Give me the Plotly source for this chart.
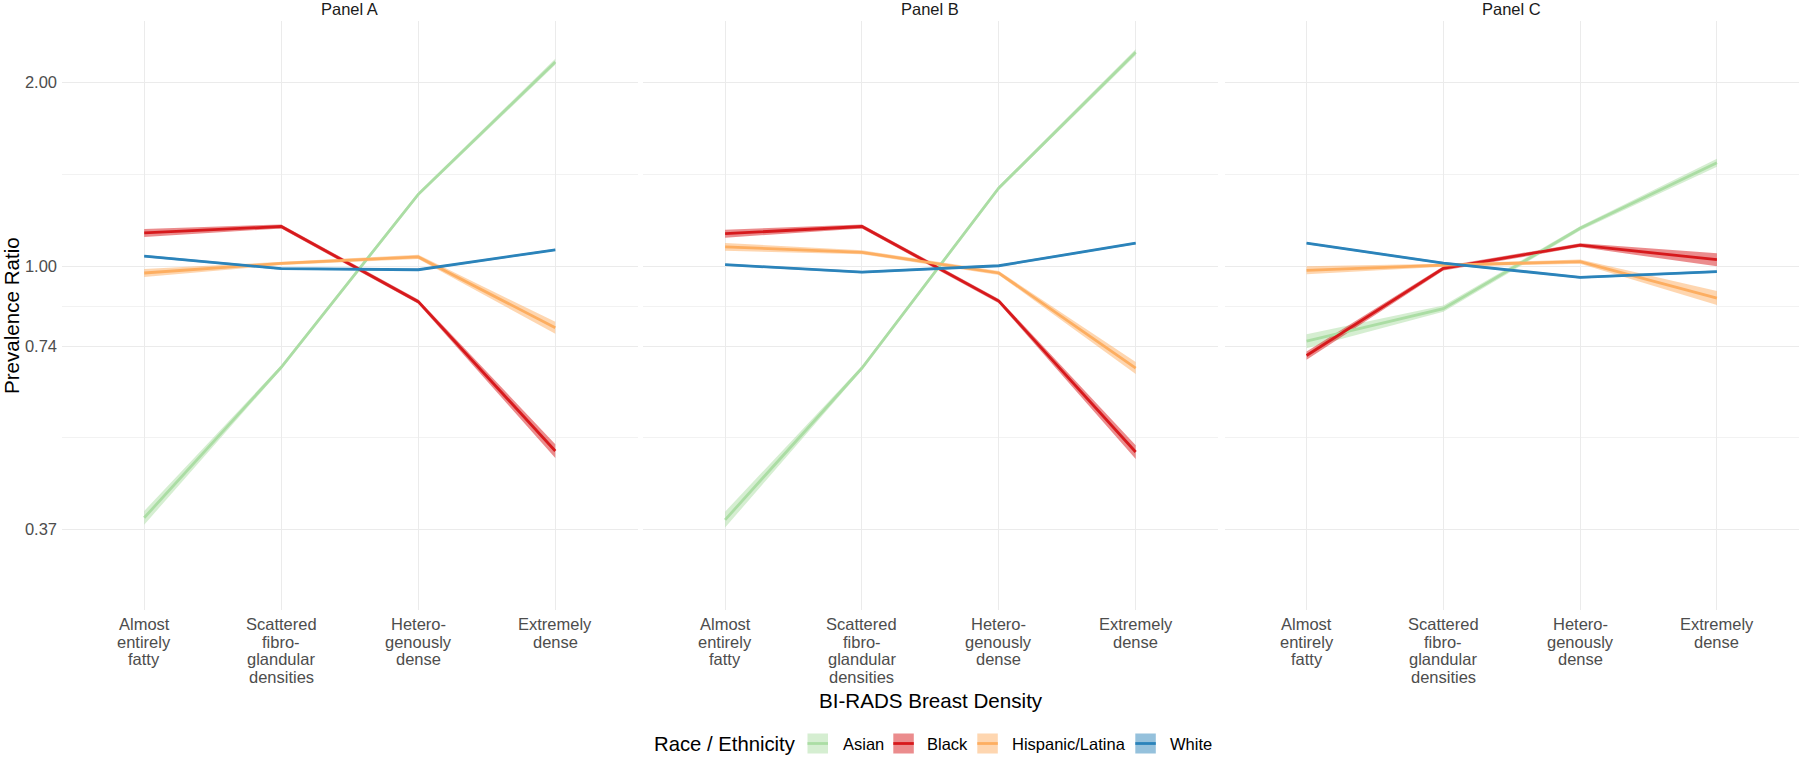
import plotly.graph_objects as go
import math

W, H = 1800, 757

# ---------------- data ----------------
categories = ["Almost<br>entirely<br>fatty",
              "Scattered<br>fibro-<br>glandular<br>densities",
              "Hetero-<br>genously<br>dense",
              "Extremely<br>dense"]
groups = ["Asian", "Black", "Hispanic/Latina", "White"]
panels = ["Panel A", "Panel B", "Panel C"]

# Panel A: estimates and confidence bands
A_est = {"Asian": [0.387, 0.683, 1.312, 2.163],
         "Black": [1.134, 1.162, 0.875, 0.498],
         "Hispanic/Latina": [0.975, 1.011, 1.036, 0.793],
         "White": [1.039, 0.991, 0.987, 1.064]}
A_lo = {"Asian": [0.377, 0.678, 1.302, 2.139],
        "Black": [1.117, 1.153, 0.868, 0.485],
        "Hispanic/Latina": [0.960, 1.005, 1.028, 0.775],
        "White": [1.035, 0.987, 0.983, 1.060]}
A_hi = {"Asian": [0.397, 0.688, 1.322, 2.188],
        "Black": [1.151, 1.171, 0.882, 0.511],
        "Hispanic/Latina": [0.990, 1.017, 1.044, 0.811],
        "White": [1.043, 0.995, 0.991, 1.068]}

# Panel B
B_est = {"Asian": [0.384, 0.681, 1.344, 2.243],
         "Black": [1.131, 1.162, 0.877, 0.496],
         "Hispanic/Latina": [1.076, 1.054, 0.975, 0.681],
         "White": [1.006, 0.978, 1.002, 1.091]}
B_lo = {"Asian": [0.373, 0.676, 1.334, 2.218],
        "Black": [1.114, 1.153, 0.870, 0.483],
        "Hispanic/Latina": [1.060, 1.046, 0.968, 0.666],
        "White": [1.002, 0.974, 0.998, 1.087]}
B_hi = {"Asian": [0.396, 0.686, 1.354, 2.269],
        "Black": [1.148, 1.171, 0.884, 0.509],
        "Hispanic/Latina": [1.092, 1.062, 0.982, 0.697],
        "White": [1.010, 0.982, 1.006, 1.095]}

# Panel C
C_est = {"Asian": [0.754, 0.852, 1.154, 1.478],
         "Black": [0.714, 0.992, 1.083, 1.025],
         "Hispanic/Latina": [0.985, 1.004, 1.018, 0.887],
         "White": [1.091, 1.012, 0.959, 0.980]}
C_lo = {"Asian": [0.734, 0.842, 1.145, 1.456],
        "Black": [0.703, 0.984, 1.075, 1.000],
        "Hispanic/Latina": [0.970, 0.998, 1.010, 0.864],
        "White": [1.087, 1.008, 0.955, 0.976]}
C_hi = {"Asian": [0.774, 0.862, 1.163, 1.500],
        "Black": [0.725, 1.000, 1.091, 1.050],
        "Hispanic/Latina": [1.000, 1.010, 1.026, 0.911],
        "White": [1.095, 1.016, 0.963, 0.984]}

y_ticks = [0.37, 0.74, 1.00, 2.00]
y_tick_labels = ["0.37", "0.74", "1.00", "2.00"]
y_minor = [0.523, 0.860, 1.414]
y_limits = [0.2732, 2.527]

# ---------------- style ----------------
colors = {"Asian": "#abdda4", "Black": "#d7191c",
          "Hispanic/Latina": "#fdae61", "White": "#2b83ba"}
FONT = "Liberation Sans, Arial, sans-serif"


def rgba(hex_color, a):
    h = hex_color.lstrip("#")
    r, g, b = int(h[0:2], 16), int(h[2:4], 16), int(h[4:6], 16)
    return f"rgba({r},{g},{b},{a})"


def px_x(x):
    return x / W


def px_y(y):
    return 1 - y / H


panel_px = [(62, 637.5), (643, 1217.8), (1224.5, 1799)]
y_dom = [px_y(610), px_y(20.7)]

data_sets = [(A_est, A_lo, A_hi), (B_est, B_lo, B_hi), (C_est, C_lo, C_hi)]
xs = list(range(len(categories)))

fig = go.Figure()

for i, (est, lo, hi) in enumerate(data_sets):
    ax = "" if i == 0 else str(i + 1)
    for g in groups:
        fig.add_trace(go.Scatter(
            x=xs + xs[::-1], y=hi[g] + lo[g][::-1],
            fill="toself", fillcolor=rgba(colors[g], 0.5),
            line=dict(width=0), mode="lines", hoverinfo="skip",
            showlegend=False, xaxis="x" + ax, yaxis="y" + ax))
    for g in groups:
        fig.add_trace(go.Scatter(
            x=xs, y=est[g], mode="lines", name=g,
            line=dict(color=colors[g], width=2.8),
            showlegend=False, xaxis="x" + ax, yaxis="y" + ax))

layout = dict(
    width=W, height=H,
    margin=dict(l=0, r=0, t=0, b=0, autoexpand=False),
    paper_bgcolor="white", plot_bgcolor="white",
    font=dict(family=FONT, color="#4D4D4D"),
    showlegend=False,
)

annotations = []
shapes = []

for i, (x0, x1) in enumerate(panel_px):
    sfx = "" if i == 0 else str(i + 1)
    layout["xaxis" + sfx] = dict(
        domain=[px_x(x0), px_x(x1)], anchor="y" + sfx,
        range=[-0.6, 3.6], tickmode="array", tickvals=xs, ticktext=categories,
        showticklabels=False,
        showgrid=True, gridcolor="#EBEBEB", gridwidth=1.3,
        zeroline=False, showline=False, ticks="",
    )
    layout["yaxis" + sfx] = dict(
        domain=y_dom, anchor="x" + sfx, type="log",
        range=[math.log10(y_limits[0]), math.log10(y_limits[1])],
        tickmode="array", tickvals=y_ticks, ticktext=y_tick_labels,
        showticklabels=(i == 0),
        showgrid=True, gridcolor="#EBEBEB", gridwidth=1.3,
        minor=dict(tickmode="array", tickvals=y_minor, showgrid=True,
                   gridcolor="#F2F2F2", gridwidth=0.9, ticks=""),
        zeroline=False, showline=False, ticks="",
        tickfont=dict(size=16.5, color="#4D4D4D", family=FONT),
        ticklabelstandoff=4,
    )
    # category labels, one line each (ggplot's tight line spacing)
    for xi, lab in zip(xs, categories):
        for k, line in enumerate(lab.split("<br>")):
            annotations.append(dict(
                x=xi, y=px_y(624 + 17.7 * k), xref="x" + sfx, yref="paper",
                text=line, showarrow=False, xanchor="center", yanchor="middle",
                font=dict(size=16.5, color="#4D4D4D", family=FONT)))

# strip titles
for (x0, x1), p in zip(panel_px, panels):
    annotations.append(dict(
        x=px_x((x0 + x1) / 2), y=px_y(8.5), xref="paper", yref="paper",
        text=p, showarrow=False, xanchor="center", yanchor="middle",
        font=dict(size=16.5, color="#1A1A1A", family=FONT)))
# axis titles
annotations.append(dict(
    x=px_x(930.5), y=px_y(700), xref="paper", yref="paper",
    text="BI-RADS Breast Density", showarrow=False,
    xanchor="center", yanchor="middle",
    font=dict(size=20.6, color="black", family=FONT)))
annotations.append(dict(
    x=px_x(12), y=px_y(316), xref="paper", yref="paper",
    text="Prevalence Ratio", showarrow=False, textangle=-90,
    xanchor="center", yanchor="middle",
    font=dict(size=20.6, color="black", family=FONT)))

# custom legend (ggplot style)
leg_y = 743.5
annotations.append(dict(
    x=px_x(652), y=px_y(leg_y), xref="paper", yref="paper",
    text="Race / Ethnicity", showarrow=False, xanchor="left", yanchor="middle",
    font=dict(size=20.3, color="black", family=FONT)))
key_x = {"Asian": 807.5, "Black": 893.3, "Hispanic/Latina": 977.3, "White": 1135.3}
lab_x = {"Asian": 840.5, "Black": 925, "Hispanic/Latina": 1010, "White": 1167.7}
for g in groups:
    kx = key_x[g]
    shapes.append(dict(type="rect", xref="paper", yref="paper",
                       x0=px_x(kx), x1=px_x(kx + 20.5),
                       y0=px_y(leg_y + 10), y1=px_y(leg_y - 10),
                       fillcolor=rgba(colors[g], 0.5), line=dict(width=0)))
    shapes.append(dict(type="line", xref="paper", yref="paper",
                       x0=px_x(kx), x1=px_x(kx + 20.5),
                       y0=px_y(leg_y), y1=px_y(leg_y),
                       line=dict(color=colors[g], width=2.8)))
    annotations.append(dict(
        x=px_x(lab_x[g]), y=px_y(leg_y), xref="paper", yref="paper",
        text=g, showarrow=False, xanchor="left", yanchor="middle",
        font=dict(size=16.5, color="black", family=FONT)))

layout["annotations"] = annotations
layout["shapes"] = shapes
fig.update_layout(**layout)

fig.write_html(
    "out.html",
    config={"displayModeBar": False},
    post_script="document.body.style.margin='0';"
                "document.body.style.padding='0';"
                "document.body.style.overflow='hidden';")
